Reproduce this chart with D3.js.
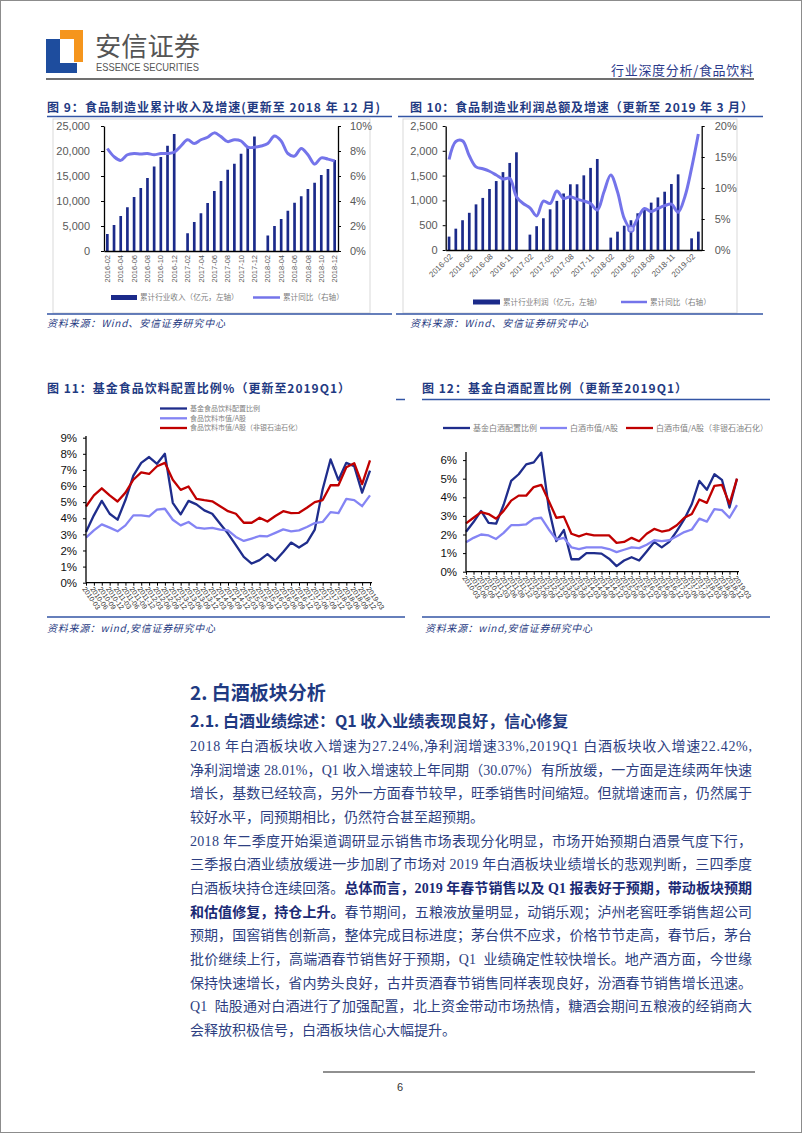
<!DOCTYPE html>
<html><head><meta charset="utf-8">
<script src="https://cdn.jsdelivr.net/npm/d3@7"></script>
<style>
html,body{margin:0;padding:0;background:#fff;}
svg{display:block;}
text{white-space:pre;}
</style></head><body>
<svg id="page" width="802" height="1133"></svg>
<script>
// ---------------- DATA ----------------
const months9 = ['2016-02','2016-03','2016-04','2016-05','2016-06','2016-07','2016-08','2016-09','2016-10','2016-11','2016-12',
 '2017-01','2017-02','2017-03','2017-04','2017-05','2017-06','2017-07','2017-08','2017-09','2017-10','2017-11','2017-12',
 '2018-01','2018-02','2018-03','2018-04','2018-05','2018-06','2018-07','2018-08','2018-09','2018-10','2018-11','2018-12'];
const revenue9 = [3400,5200,7000,8750,10800,12600,14600,16900,18800,21050,23400, null,
 3550,5800,7550,9600,12000,14000,16250,17450,19450,20900,22900, null,
 3100,5000,6400,8050,9650,10950,12400,13650,15200,16400,18200];
const yoy9 = [8.2,7.55,7.25,7.7,7.8,7.76,7.8,7.7,7.8,7.8,7.9, 8.4,
 8.9,8.6,8.9,9.1,9.45,9.15,8.75,8.9,8.8,8.3,8.3, 8.4,
 8.6,9.2,8.8,7.8,7.6,8.2,7.7,6.95,7.45,7.35,7.2];
const leftTicks9 = [0,5000,10000,15000,20000,25000];
const rightTicks9 = [0,2,4,6,8,10];

const months10 = ['2016-02','2016-03','2016-04','2016-05','2016-06','2016-07','2016-08','2016-09','2016-10','2016-11','2016-12',
 '2017-01','2017-02','2017-03','2017-04','2017-05','2017-06','2017-07','2017-08','2017-09','2017-10','2017-11','2017-12',
 '2018-01','2018-02','2018-03','2018-04','2018-05','2018-06','2018-07','2018-08','2018-09','2018-10','2018-11','2018-12',
 '2019-01','2019-02','2019-03'];
const profit10 = [270,430,600,750,920,1050,1230,1390,1570,1755,1970, null,
 310,480,640,820,990,1140,1325,1325,1505,1655,1835, null,
 250,370,490,600,740,840,955,1060,1175,1330,1525, null,
 235,370];
const yoy10 = [14.6,17.5,17.6,15.2,13.4,13.1,12.7,12.1,11.45,11.55,8.6, 7.5,
 6.8,5.5,7.9,7.5,9.5,8.3,8.6,8.2,7.9,7.5,6.45, 9.4,
 12.1,9.4,5.1,3.4,5.1,6.7,6.2,6.7,7.15,7.4,6.1, 8.6,
 13.2,18.7];
const leftTicks10 = [0,500,1000,1500,2000,2500];
const rightTicks10 = [0,5,10,15,20];

const quarters = ['2010-03','2010-06','2010-09','2010-12','2011-03','2011-06','2011-09','2011-12','2012-03','2012-06','2012-09','2012-12',
 '2013-03','2013-06','2013-09','2013-12','2014-03','2014-06','2014-09','2014-12','2015-03','2015-06','2015-09','2015-12',
 '2016-03','2016-06','2016-09','2016-12','2017-03','2017-06','2017-09','2017-12','2018-03','2018-06','2018-09','2018-12','2019-03'];
const fundFood11 = [3.15,4.18,5.08,4.28,3.91,5.13,6.64,7.44,7.8,7.38,8.0,4.96,4.24,5.08,4.86,4.49,4.28,3.66,3.05,2.33,1.6,1.19,1.4,1.77,1.36,1.91,2.49,2.18,2.49,3.3,5.8,7.65,6.37,7.44,7.23,5.59,6.96];
const mktFood11 = [2.8,3.25,3.62,3.42,3.19,3.56,4.18,4.18,4.12,4.53,4.59,3.91,3.56,3.77,3.42,3.35,3.4,3.29,3.25,2.84,2.59,2.74,2.9,2.88,3.09,3.31,3.19,3.25,3.46,3.7,3.77,4.38,4.32,5.2,5.13,4.75,5.42];
const mktFoodEx11 = [4.73,5.42,5.86,5.42,5.04,5.59,6.39,6.85,6.75,7.23,7.44,6.39,5.76,5.97,5.21,5.12,5.05,4.75,4.44,4.28,3.72,3.72,4.03,3.8,4.14,4.44,4.32,4.34,4.65,5.0,5.13,6.05,6.05,7.17,7.42,6.12,7.59];
const ticks11 = [0,1,2,3,4,5,6,7,8,9];

const fundBaijiu12 = [2.15,2.67,3.27,2.62,2.58,3.6,4.88,5.24,5.77,5.88,6.4,3.4,1.64,2.24,0.67,0.67,1.0,1.0,0.97,0.7,0.3,0.6,0.78,0.6,1.09,1.6,1.31,1.6,2.18,2.82,3.64,4.88,4.4,5.24,4.94,3.45,5.0];
const mktBaijiu12 = [1.58,1.82,2.0,1.95,1.76,2.09,2.5,2.5,2.55,2.85,2.9,2.27,1.73,1.82,1.31,1.22,1.31,1.31,1.31,1.22,1.05,1.18,1.31,1.27,1.45,1.69,1.64,1.69,1.91,2.13,2.27,2.85,2.69,3.36,3.31,2.9,3.58];
const mktBaijiuEx12 = [2.6,2.9,3.2,3.1,2.85,3.27,3.82,4.09,4.09,4.55,4.67,3.8,2.9,2.96,2.04,1.9,2.04,1.95,1.95,1.95,1.55,1.6,1.82,1.64,2.04,2.3,2.16,2.24,2.5,2.9,3.1,3.88,3.7,4.62,4.67,3.65,5.0];
const ticks12 = [0,1,2,3,4,5,6];

// ---------------- STYLE ----------------
const CJK = "'Noto Sans CJK SC','Noto Sans',sans-serif";
const SANS = "'Liberation Sans',Arial,'Noto Sans CJK SC',sans-serif";
const SERIF = "'Liberation Serif','Noto Sans CJK SC',serif";
const TXT_NAVY = '#1f3a82';
const BAR = '#1b2a8a';
const LINE_LIGHT = '#7474ea';
const NAVY = '#1f2d8c', PURPLE = '#8484f4', RED = '#c00000';
const GRAYTXT = '#595959';

const svg = d3.select('#page');
svg.append('rect').attr('x',0.5).attr('y',0.5).attr('width',801).attr('height',1132)
  .attr('fill','#fff').attr('stroke','#8c8c8c');

// ---------------- HEADER ----------------
svg.append('polygon').attr('points','60,30 83,30 83,62 74,62 74,39 60,39').attr('fill','#f5951d');
svg.append('polygon').attr('points','46,39 60,39 60,63 77,63 77,73 46,73').attr('fill','#1e4d9e');
svg.append('text').attr('x',95).attr('y',56).attr('font-family',CJK).attr('font-size',26)
  .attr('fill','#555').attr('textLength',105).attr('lengthAdjust','spacingAndGlyphs').text('安信证券');
svg.append('text').attr('x',96).attr('y',70.5).attr('font-family',SANS).attr('font-size',10)
  .attr('fill','#555').attr('textLength',103).attr('lengthAdjust','spacingAndGlyphs').text('ESSENCE SECURITIES');
svg.append('text').attr('x',611).attr('y',75).attr('font-family',CJK).attr('font-size',13)
  .attr('fill','#2c3b8c').attr('textLength',142).attr('lengthAdjust','spacing').text('行业深度分析/食品饮料');
svg.append('line').attr('x1',46).attr('x2',754).attr('y1',79).attr('y2',79).attr('stroke','#404040').attr('stroke-width',1.6);

// ---------------- helpers ----------------
function title(x, y, w, t){
  svg.append('text').attr('x',x).attr('y',y).attr('font-family',CJK).attr('font-weight','bold')
   .attr('font-size',12).attr('fill',TXT_NAVY).attr('textLength',w).attr('lengthAdjust','spacing').text(t);
}
function hline(x1,x2,y,color,w){
  svg.append('line').attr('x1',x1).attr('x2',x2).attr('y1',y).attr('y2',y).attr('stroke',color).attr('stroke-width',w);
}
function source(x,y,w,t){
  svg.append('text').attr('x',x).attr('y',y).attr('font-family',CJK).attr('font-style','italic')
   .attr('font-size',10).attr('fill',TXT_NAVY).attr('textLength',w).attr('lengthAdjust','spacing').text(t);
}
function styleAxis(g, size){
  g.select('.domain').attr('stroke','#000').attr('stroke-width',1.3);
  g.selectAll('.tick line').attr('stroke','#000').attr('stroke-width',1);
  g.selectAll('.tick text').attr('font-family',SANS).attr('font-size',size||11).attr('fill',GRAYTXT);
}
function legendText(x,y,t,size){
  svg.append('text').attr('x',x).attr('y',y).attr('dy','0.35em').attr('font-family',CJK)
   .attr('font-size',size).attr('fill','#7f7f7f').text(t);
}

// ---------------- CHART 9 ----------------
title(47,112,333,'图 9：食品制造业累计收入及增速(更新至 2018 年 12 月)');
hline(47,392,116.5,'#3355a5',1.5);
svg.append('rect').attr('x',53).attr('y',119).attr('width',317).attr('height',194)
  .attr('fill','none').attr('stroke','#d9d9d9');
{
  const x = d3.scaleBand().domain(months9).range([104,338]).paddingInner(0.6).paddingOuter(0.3);
  const yL = d3.scaleLinear().domain([0,25000]).range([251,126]);
  const yR = d3.scaleLinear().domain([0,10]).range([251,126]);
  const g = svg.append('g');
  const d9 = months9.map((m,i)=>({m, v:revenue9[i], r:yoy9[i]}));
  g.selectAll('rect.b').data(d9.filter(d=>d.v!=null)).join('rect')
   .attr('x',d=>x(d.m)).attr('width',x.bandwidth()).attr('y',d=>yL(d.v)).attr('height',d=>yL(0)-yL(d.v)).attr('fill',BAR);
  g.append('path').datum(d9).attr('fill','none').attr('stroke',LINE_LIGHT).attr('stroke-width',3)
   .attr('d', d3.line().x(d=>x(d.m)+x.bandwidth()/2).y(d=>yR(d.r)).curve(d3.curveCatmullRom.alpha(0.5)));
  const ax = svg.append('g').attr('transform','translate(104,0)')
   .call(d3.axisLeft(yL).tickValues(leftTicks9).tickFormat(d3.format(',')).tickSize(3).tickSizeOuter(0).tickPadding(11));
  styleAxis(ax);
  const ar = svg.append('g').attr('transform','translate(338,0)')
   .call(d3.axisRight(yR).tickValues(rightTicks9).tickFormat(d=>d+'%').tickSize(3).tickSizeOuter(0).tickPadding(9));
  styleAxis(ar);
  const ab = svg.append('g').attr('transform','translate(0,251)')
   .call(d3.axisBottom(x).tickSize(0).tickFormat(''));
  styleAxis(ab);
  svg.append('g').selectAll('text').data(months9.filter((m,i)=>i%2===0)).join('text')
   .attr('transform',d=>`translate(${x(d)+x.bandwidth()/2},255) rotate(-90)`)
   .attr('text-anchor','end').attr('dy','0.35em').attr('font-family',SANS).attr('font-size',7.5)
   .attr('fill',GRAYTXT).text(d=>d);
  svg.append('rect').attr('x',111).attr('y',295).attr('width',26).attr('height',5).attr('fill',BAR);
  legendText(140,297.5,'累计行业收入（亿元，左轴）',7.6);
  hline(253,280,297.5,LINE_LIGHT,2.5);
  legendText(283,297.5,'累计同比（右轴）',7.6);
}
hline(47,392,314,'#3355a5',1.5);
source(47,327,178,'资料来源：Wind、安信证券研究中心');

// ---------------- CHART 10 ----------------
title(410,112,343,'图 10：食品制造业利润总额及增速（更新至 2019 年 3 月）');
hline(398,763,116.5,'#3355a5',1.5);
svg.append('rect').attr('x',403).attr('y',119).attr('width',334).attr('height',194)
  .attr('fill','none').attr('stroke','#d9d9d9');
{
  const x = d3.scaleBand().domain(months10).range([445.7,701.7]).paddingInner(0.6).paddingOuter(0.3);
  const yL = d3.scaleLinear().domain([0,2500]).range([250,126]);
  const yR = d3.scaleLinear().domain([0,20]).range([250,126]);
  const g = svg.append('g');
  const d10 = months10.map((m,i)=>({m, v:profit10[i], r:yoy10[i]}));
  g.selectAll('rect.b').data(d10.filter(d=>d.v!=null)).join('rect')
   .attr('x',d=>x(d.m)).attr('width',x.bandwidth()).attr('y',d=>yL(d.v)).attr('height',d=>yL(0)-yL(d.v)).attr('fill',BAR);
  g.append('path').datum(d10).attr('fill','none').attr('stroke',LINE_LIGHT).attr('stroke-width',3)
   .attr('d', d3.line().x(d=>x(d.m)+x.bandwidth()/2).y(d=>yR(d.r)).curve(d3.curveCatmullRom.alpha(0.5)));
  const mk = d10[27];
  g.append('circle').attr('cx',x(mk.m)+x.bandwidth()/2).attr('cy',yR(mk.r)).attr('r',3)
   .attr('fill','#b8b8f6').attr('stroke',LINE_LIGHT).attr('stroke-width',1.5);
  const ax = svg.append('g').attr('transform','translate(445.7,0)')
   .call(d3.axisLeft(yL).tickValues(leftTicks10).tickFormat(d3.format(',')).tickSize(3).tickSizeOuter(0).tickPadding(5));
  styleAxis(ax);
  const ar = svg.append('g').attr('transform','translate(701.7,0)')
   .call(d3.axisRight(yR).tickValues(rightTicks10).tickFormat(d=>d+'%').tickSize(3).tickSizeOuter(0).tickPadding(10));
  styleAxis(ar);
  const ab = svg.append('g').attr('transform','translate(0,250)')
   .call(d3.axisBottom(x).tickSize(0).tickFormat(''));
  styleAxis(ab);
  svg.append('g').selectAll('text').data(months10.filter((m,i)=>i%3===0)).join('text')
   .attr('transform',d=>`translate(${x(d)+x.bandwidth()/2+2},255) rotate(-45)`)
   .attr('text-anchor','end').attr('dy','0.35em').attr('font-family',SANS).attr('font-size',8)
   .attr('fill',GRAYTXT).text(d=>d);
  svg.append('rect').attr('x',473).attr('y',299.5).attr('width',27).attr('height',5).attr('fill',BAR);
  legendText(503,302,'累计行业利润（亿元，左轴）',7.6);
  hline(621,647,302,LINE_LIGHT,2.5);
  legendText(650,302,'累计同比（右轴）',7.6);
}
hline(396,763,314,'#3355a5',1.5);
source(410,327,178,'资料来源：Wind、安信证券研究中心');

// ---------------- line chart helper ----------------
function lineChart(cfg){
  const x = d3.scalePoint().domain(quarters).range([cfg.x0,cfg.x1]);
  const y = d3.scaleLinear().domain([0,cfg.max]).range([cfg.yb,cfg.yt]);
  const g = svg.append('g');
  cfg.series.forEach(s=>{
    g.append('path').datum(s.v).attr('fill','none').attr('stroke',s.c).attr('stroke-width',2.3)
     .attr('stroke-linejoin','round')
     .attr('d', d3.line().x((d,i)=>x(quarters[i])).y(d=>y(d)));
  });
  const ax = svg.append('g').attr('transform',`translate(${cfg.x0},0)`)
   .call(d3.axisLeft(y).tickValues(cfg.ticks).tickFormat(d=>d+'%').tickSize(3).tickSizeOuter(0).tickPadding(6));
  styleAxis(ax, 11.5);
  ax.selectAll('.tick text').attr('fill','#111');
  ax.select('.domain').attr('d',`M0,${y(0)}V${cfg.axisTop}`);
  const ab = svg.append('g').attr('transform',`translate(0,${cfg.yb})`)
   .call(d3.axisBottom(x).tickSize(3).tickSizeOuter(0).tickFormat(''));
  styleAxis(ab);
  ab.select('.domain').attr('d',`M${cfg.x0},0H${cfg.x1+2}`);
  svg.append('g').selectAll('text').data(quarters).join('text')
   .attr('transform',d=>`translate(${x(d)-2},${cfg.yb+5}) rotate(55)`)
   .attr('text-anchor','start').attr('dy','0.35em').attr('font-family',SANS).attr('font-size',7)
   .attr('fill','#333').text(d=>d);
}

// ---------------- CHART 11 ----------------
title(47,393,303,'图 11：基金食品饮料配置比例%（更新至2019Q1）');
hline(396,405,399.5,'#3355a5',1.5);
hline(160,187,408.5,NAVY,2.3); legendText(190,408.5,'基金食品饮料配置比例',7);
hline(160,187,418.3,PURPLE,2.3); legendText(190,418.3,'食品饮料市值/A股',7);
hline(160,187,428,RED,2.3); legendText(190,428,'食品饮料市值/A股（非银石油石化）',7);
lineChart({x0:86,x1:370,yb:582.7,yt:437.7,max:9,ticks:ticks11,axisTop:436,
  series:[{v:fundFood11,c:NAVY},{v:mktFood11,c:PURPLE},{v:mktFoodEx11,c:RED}]});
hline(47,405,617,'#3355a5',1.5);
source(47,632,168,'资料来源：wind,安信证券研究中心');

// ---------------- CHART 12 ----------------
title(422,393,265,'图 12：基金白酒配置比例（更新至2019Q1）');
hline(422,770,399.5,'#3355a5',1.5);
hline(443,470,428,NAVY,2.3); legendText(473,428,'基金白酒配置比例',8);
hline(540,567,428,PURPLE,2.3); legendText(570,428,'白酒市值/A股',8);
hline(626,653,428,RED,2.3); legendText(656,428,'白酒市值/A股（非银石油石化）',8);
lineChart({x0:466,x1:737,yb:571.7,yt:460.1,max:6,ticks:ticks12,axisTop:452,
  series:[{v:fundBaijiu12,c:NAVY},{v:mktBaijiu12,c:PURPLE},{v:mktBaijiuEx12,c:RED}]});
hline(422,770,617,'#3355a5',1.5);
source(425,632,167,'资料来源：wind,安信证券研究中心');

// ---------------- TEXT SECTION ----------------
svg.append('text').attr('x',190).attr('y',700).attr('font-family',CJK).attr('font-weight','bold')
  .attr('font-size',19).attr('fill',TXT_NAVY).text('2. 白酒板块分析');
svg.append('text').attr('x',190).attr('y',727).attr('font-family',CJK).attr('font-weight','bold')
  .attr('font-size',16).attr('fill',TXT_NAVY).text('2.1. 白酒业绩综述：Q1 收入业绩表现良好，信心修复');

const bodyLines = [
 [[ '2018 年白酒板块收入增速为27.24%,净利润增速33%,2019Q1 白酒板块收入增速22.42%,',0]],
 [[ '净利润增速 28.01%，Q1 收入增速较上年同期（30.07%）有所放缓，一方面是连续两年快速',0]],
 [[ '增长，基数已经较高，另外一方面春节较早，旺季销售时间缩短。但就增速而言，仍然属于',0]],
 [[ '较好水平，同预期相比，仍然符合甚至超预期。',0]],
 [[ '2018 年二季度开始渠道调研显示销售市场表现分化明显，市场开始预期白酒景气度下行，',0]],
 [[ '三季报白酒业绩放缓进一步加剧了市场对 2019 年白酒板块业绩增长的悲观判断，三四季度',0]],
 [[ '白酒板块持仓连续回落。',0],['总体而言，2019 年春节销售以及 Q1 报表好于预期，带动板块预期',1]],
 [[ '和估值修复，持仓上升。',1],['春节期间，五粮液放量明显，动销乐观；泸州老窖旺季销售超公司',0]],
 [[ '预期，国窖销售创新高，整体完成目标进度；茅台供不应求，价格节节走高，春节后，茅台',0]],
 [[ '批价继续上行，高端酒春节销售好于预期，Q1  业绩确定性较快增长。地产酒方面，今世缘',0]],
 [[ '保持快速增长，省内势头良好，古井贡酒春节销售同样表现良好，汾酒春节销售增长迅速。',0]],
 [[ 'Q1  陆股通对白酒进行了加强配置，北上资金带动市场热情，糖酒会期间五粮液的经销商大',0]],
 [[ '会释放积极信号，白酒板块信心大幅提升。',0]]
];
const justifyLine = [1,1,1,0,1,1,1,1,1,1,1,1,0];
const bodyLeft = 190, bodyWidth = 562, firstBase = 751, lineGap = 23.67;
bodyLines.forEach((segs,i)=>{
  const t = svg.append('text').attr('x',bodyLeft).attr('y',firstBase+i*lineGap)
    .attr('font-family',SERIF).attr('font-size',14).attr('fill','#2e3f82');
  segs.forEach(s=>{
    t.append('tspan').attr('font-weight',s[1]?'bold':'normal').attr('fill',s[1]?'#1a2a75':'#2e3f82').text(s[0]);
  });
  if (justifyLine[i]){
    const w = t.node().getComputedTextLength();
    const n = t.text().length;
    t.attr('letter-spacing',(bodyWidth - w)/(n-1));
  }
});

// ---------------- FOOTER ----------------
hline(323,755,1072,'#222',1.2);
svg.append('text').attr('x',400).attr('y',1091).attr('text-anchor','middle').attr('font-family',SANS)
  .attr('font-size',11).attr('fill','#333').text('6');
</script></body></html>
